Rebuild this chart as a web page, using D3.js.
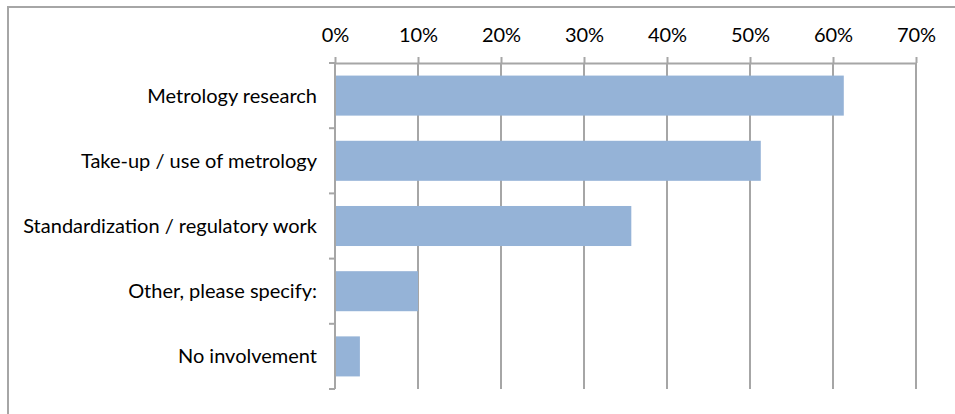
<!DOCTYPE html>
<html>
<head>
<meta charset="utf-8">
<script src="https://cdn.jsdelivr.net/npm/d3@7"></script>
<style>
  html, body { margin: 0; padding: 0; background: #fff; }
  svg { display: block; }
  text { font-family: Lato, "Open Sans", sans-serif; fill: #000; }
</style>
</head>
<body>
<svg id="chart" width="955" height="414"></svg>
<script>
// Survey responses: share of respondents per type of involvement
const categories = [
  "Metrology research",
  "Take-up / use of metrology",
  "Standardization / regulatory work",
  "Other, please specify:",
  "No involvement"
];
const shares = [0.613, 0.513, 0.357, 0.100, 0.030];
const tickValues = [0, 0.1, 0.2, 0.3, 0.4, 0.5, 0.6, 0.7];

const svg = d3.select("#chart");
const W = 955, H = 414;
const plot = { left: 335, right: 916, top: 63, bottom: 389 };
const grey = "#a6a6a6";
const fontSize = 20;

// Outer chart frame (runs off the right and bottom edges)
svg.append("rect")
  .attr("x", 8).attr("y", 7)
  .attr("width", W + 10).attr("height", H + 10)
  .attr("fill", "none").attr("stroke", grey).attr("stroke-width", 2);

const x = d3.scaleLinear().domain([0, 0.7]).range([plot.left, plot.right]);
const y = d3.scaleBand().domain(categories)
  .range([plot.top, plot.bottom])
  .paddingInner(0.386).paddingOuter(0.193);

// Vertical gridlines
svg.append("g").selectAll("line")
  .data(tickValues.slice(1))
  .join("line")
  .attr("x1", d => x(d)).attr("x2", d => x(d))
  .attr("y1", plot.top).attr("y2", plot.bottom)
  .attr("stroke", grey).attr("stroke-width", 2);

// Top value axis
const xAxis = svg.append("g")
  .attr("transform", `translate(0,${plot.top})`)
  .call(d3.axisTop(x).tickValues(tickValues).tickFormat(d3.format(".0%"))
    .tickSize(6).tickSizeOuter(0).tickPadding(15));
xAxis.select(".domain").attr("stroke", grey).attr("stroke-width", 2);
xAxis.selectAll(".tick line").attr("stroke", grey).attr("stroke-width", 2);
xAxis.selectAll(".tick text")
  .attr("font-size", fontSize)
  .attr("font-family", "Lato, 'Open Sans', sans-serif")
  .attr("fill", "#000");

// Left category axis: line plus ticks at band boundaries
const step = y.step();
const boundaries = d3.range(categories.length + 1).map(i => plot.top + i * step);
const yAxis = svg.append("g");
yAxis.append("line")
  .attr("x1", plot.left).attr("x2", plot.left)
  .attr("y1", plot.top).attr("y2", plot.bottom)
  .attr("stroke", grey).attr("stroke-width", 2);
yAxis.selectAll("line.tick")
  .data(boundaries)
  .join("line")
  .attr("class", "tick")
  .attr("x1", plot.left - 6).attr("x2", plot.left)
  .attr("y1", d => d).attr("y2", d => d)
  .attr("stroke", grey).attr("stroke-width", 2);

// Category labels
svg.append("g").selectAll("text")
  .data(categories)
  .join("text")
  .attr("x", plot.left - 18)
  .attr("y", d => y(d) + y.bandwidth() / 2)
  .attr("dy", "0.35em")
  .attr("text-anchor", "end")
  .attr("font-size", fontSize)
  .text(d => d);

// Bars
svg.append("g").selectAll("rect")
  .data(shares)
  .join("rect")
  .attr("x", x(0) + 1)
  .attr("y", (d, i) => y(categories[i]))
  .attr("width", d => x(d) - x(0) - 1)
  .attr("height", y.bandwidth())
  .attr("fill", "#95b3d7");
</script>
</body>
</html>
